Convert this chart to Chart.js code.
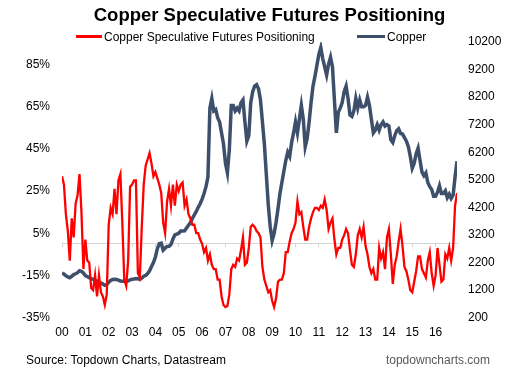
<!DOCTYPE html>
<html>
<head>
<meta charset="utf-8">
<script src="https://cdn.jsdelivr.net/npm/chart.js@4.4.1/dist/chart.umd.min.js"></script>
<style>
  body { margin: 0; background: #fff; }
  #wrap { position: relative; width: 529px; height: 373px; font-family: "Liberation Sans", Arial, sans-serif; }
  #c { position: absolute; left: 0; top: 0; }
  .txt { position: absolute; white-space: nowrap; }
  #title { left: 10px; width: 519px; top: 4px; text-align: center; font-weight: bold; font-size: 18.5px; line-height: 22px; color: #000; }
  #legend { left: 76px; top: 29px; font-size: 12px; line-height: 16px; color: #000; }
  #legend span.item { position: absolute; top: 0; }
  #legend i { display: inline-block; height: 3px; vertical-align: middle; margin-right: 2px; position: relative; top: -1px; }
  #source { left: 26px; top: 352px; font-size: 12px; line-height: 16px; color: #000; }
  #site { right: 39px; top: 352px; font-size: 12px; line-height: 16px; color: #595959; }
</style>
</head>
<body>
<div id="wrap">
  <canvas id="c" width="529" height="373"></canvas>
  <div class="txt" id="title">Copper Speculative Futures Positioning</div>
  <div class="txt" id="legend"></div>
  <div class="txt" id="source">Source: Topdown Charts, Datastream</div>
  <div class="txt" id="site">topdowncharts.com</div>
</div>
<script>
// monthly readings, Jan 2000 .. Dec 2016
const positioning = [
  32, 28, 14, 6, -8, 12, 3, 19, 23, 33,
  15, -12, 2, -8, -9, -21, -22, -15, -25, -15,
  -23, -25, -29, -24, 9, 17, 14, 26, 14, 30,
  33, 10, -17, -20, -8, 27, 28, 30, 30, -14,
  -16, 8, 28, 37, 40, 43, 38, 32, 34, 31,
  28, 24, 10, 5, 20, 26, 18, 28, 18, 28,
  25, 28, 29, 18, 21, 14, 12, 9, 9, 5,
  5, 2, 0, -4, -2, -8, -5, -10, -12, -12,
  -17, -17, -25, -29, -30, -29.5, -24, -12, -10, -11,
  -7, -8, -3, 3, -10, -9, -2, 8, 9, 8,
  6, 5, 3, -11, -17, -20, -23, -22, -27, -30,
  -26, -18, -17, -17, -14, -4, -4, 1, 5, 7,
  10, 20, 14, 15, 8, 2, 2, 8, 12, 15,
  17, 17, 16, 18, 17, 21, 16, 7, 10, 12,
  2, -5, -2, -2, 2, 4, 7, 5, -3, -10,
  -11, -5, 4, 7, 3, 8, -1, -5, -11, -14,
  -12, -17, -17, -2, -7, -4, -12, 3, 7, -5,
  -19, -10, -6, 1, 7, -1, -11, -13, -17, -22,
  -23, -18, -13, -6, -6, -12, -14, -16, -8, -4,
  -14, -20, -15, -2, -10, -18, -17, -5, -7, -2,
  -8, -2, 18, 24
];
const copper = [
  1820, 1780, 1720, 1680, 1650, 1700, 1760, 1790, 1830, 1900,
  1880, 1820, 1720, 1690, 1650, 1610, 1590, 1550, 1520, 1470,
  1460, 1420, 1370, 1400, 1480, 1550, 1580, 1590, 1580, 1560,
  1530, 1520, 1520, 1510, 1530, 1570, 1590, 1600, 1620, 1610,
  1590, 1630, 1700, 1730, 1800, 1900, 2050, 2200, 2400, 2700,
  2880, 2900, 2650, 2720, 2780, 2790, 2850, 3050, 3200, 3230,
  3260, 3340, 3340, 3350, 3450, 3550, 3650, 3800, 3930, 4050,
  4200, 4330, 4500, 4700, 4950, 5300, 7800, 8150, 7700, 7750,
  7450, 7300, 6900, 6500, 5800, 5450, 6300, 7900, 7900, 7700,
  7800, 7700, 8000, 8100, 7300, 6600, 6800, 8000, 8400, 8600,
  8650, 8500, 8100, 7300, 6500, 5400, 4300, 3500, 3000, 3250,
  3650, 4150, 4700, 5100, 5500, 5900, 6200, 6050, 6550, 6900,
  7300, 6900, 7400, 7900, 7400, 6400, 6700, 7300, 8000, 8600,
  8950, 9350, 9750, 10000, 9600, 9300, 9000, 9400, 9650, 9300,
  8100, 6900, 7650, 7800, 8000, 8400, 8600, 8150, 7550, 7500,
  7700, 8150, 7800, 8100, 7850, 7850, 7900, 8200, 7900, 7400,
  6900, 7000, 7200, 7000, 7200, 7300, 7150, 7200, 7150, 6650,
  6550, 6800, 6980, 7050, 6880, 6860, 6730, 6600, 6400, 6050,
  5620, 5800, 6150, 6350, 5900, 5480, 5350, 5450, 5100, 4950,
  4850, 4600, 4600, 4750, 4980, 4700, 4700, 4800, 4550, 4680,
  4520, 4640, 5300, 5870
];
const months = positioning.map((_, i) => 2000 + i / 12);
const yearTicks = [2000, 2001, 2002, 2003, 2004, 2005, 2006, 2007, 2008, 2009, 2010, 2011, 2012, 2013, 2014, 2015, 2016];
const leftTicks = [-35, -15, 5, 25, 45, 65, 85];
const rightTicks = [200, 1200, 2200, 3200, 4200, 5200, 6200, 7200, 8200, 9200, 10200];

const tickFont = { family: '"Liberation Sans", Arial, sans-serif', size: 12 };
const xMin = months[0], xMax = months[months.length - 1];

const chart = new Chart(document.getElementById('c'), {
  type: 'line',
  data: {
    datasets: [{
      label: 'Copper Speculative Futures Positioning',
      data: months.map((m, i) => ({ x: m, y: positioning[i] })),
      borderColor: '#ff0000',
      borderWidth: 2.3,
      pointRadius: 0,
      tension: 0,
      yAxisID: 'y'
    }, {
      label: 'Copper',
      data: months.map((m, i) => ({ x: m, y: copper[i] })),
      borderColor: '#3d4f6b',
      borderWidth: 3.5,
      pointRadius: 0,
      tension: 0,
      yAxisID: 'y2'
    }]
  },
  options: {
    responsive: false,
    devicePixelRatio: 1,
    animation: false,
    layout: { padding: { top: 42, bottom: 25, left: 0, right: 22 } },
    plugins: { legend: { display: false }, title: { display: false }, tooltip: { enabled: false } },
    scales: {
      x: {
        type: 'linear', min: xMin, max: xMax,
        afterBuildTicks: s => { s.ticks = yearTicks.map(v => ({ value: v })); },
        ticks: { font: tickFont, color: '#000', padding: 8, autoSkip: false, maxRotation: 0,
                 callback: v => String(v % 100).padStart(2, '0') },
        grid: { display: false, drawTicks: false },
        border: { display: false }
      },
      x2: {
        type: 'linear', min: xMin, max: xMax, position: { y: 0 },
        afterBuildTicks: s => { s.ticks = yearTicks.map(v => ({ value: v })); },
        ticks: { display: false },
        grid: { drawOnChartArea: false, drawTicks: true, tickLength: 3, color: '#d4d4d4' },
        border: { display: true, color: '#d4d4d4', width: 1 }
      },
      y: {
        position: 'left', min: -35, max: 95.6,
        afterBuildTicks: s => { s.ticks = leftTicks.map(v => ({ value: v })); },
        afterFit: s => { s.width = 62; },
        ticks: { font: tickFont, color: '#000', padding: 12, callback: v => v + '%' },
        grid: { display: false, drawTicks: false },
        border: { display: false }
      },
      y2: {
        position: 'right', min: 200, max: 10200,
        afterBuildTicks: s => { s.ticks = rightTicks.map(v => ({ value: v })); },
        afterFit: s => { s.width = 50; },
        ticks: { font: tickFont, color: '#000', padding: 11, callback: v => String(v) },
        grid: { display: false, drawTicks: false },
        border: { display: false }
      }
    }
  }
});

// html legend from the datasets
const legend = document.getElementById('legend');
const offsets = [0, 281];
const lineW = [26, 28];
chart.data.datasets.forEach((ds, i) => {
  const item = document.createElement('span');
  item.className = 'item';
  item.style.left = offsets[i] + 'px';
  item.innerHTML = '<i style="width:' + lineW[i] + 'px;background:' + ds.borderColor + '"></i>' + ds.label;
  legend.appendChild(item);
});
</script>
</body>
</html>
